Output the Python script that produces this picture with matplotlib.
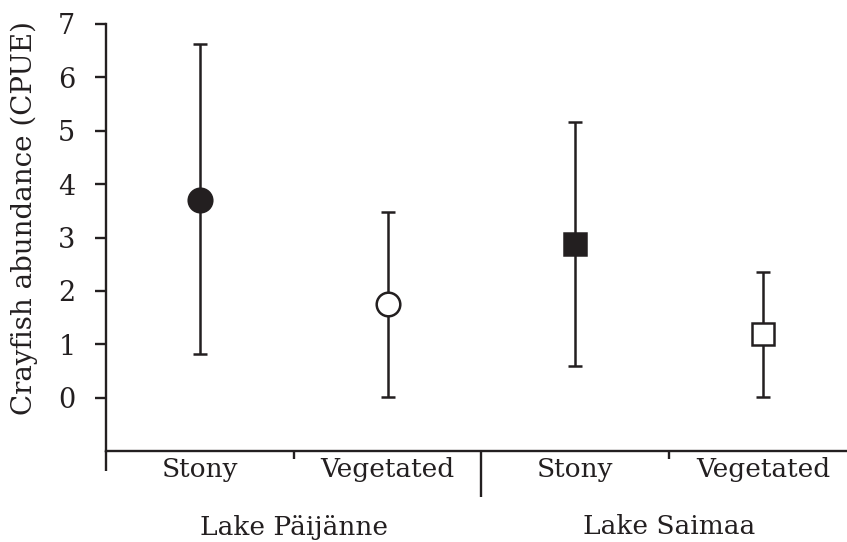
import matplotlib
matplotlib.use("Agg")
import matplotlib.pyplot as plt
import numpy as np

lakes = ["Lake Päijänne", "Lake Saimaa"]
habitats = ["Stony", "Vegetated", "Stony", "Vegetated"]
means = [3.71, 1.76, 2.88, 1.19]
upper = [6.63, 3.48, 5.17, 2.35]
lower = [0.81, 0.02, 0.60, 0.01]
markers = ["o", "o", "s", "s"]
fills = ["#231f20", "white", "#231f20", "white"]
yticks = [0, 1, 2, 3, 4, 5, 6, 7]

ink = "#231f20"
plt.rcParams["font.family"] = ["DejaVu Serif"]

fig = plt.figure(figsize=(8.47, 5.42), dpi=100)
ax = fig.add_axes([106/847, 1 - 451/542, 1 - 106/847, (451 - 24)/542])

xpos = np.arange(len(means)) + 0.5
for x, m, lo, hi, mk, fc in zip(xpos, means, lower, upper, markers, fills):
    ax.errorbar([x], [m], yerr=[[m - lo], [hi - m]], fmt="none",
                ecolor=ink, elinewidth=1.8, capsize=4.8, capthick=1.8, zorder=2)
    ms = 17 if mk == "o" else 15.5
    ax.plot([x], [m], marker=mk, markersize=ms, markerfacecolor=fc,
            markeredgecolor=ink, markeredgewidth=1.8, linestyle="none", zorder=3)

ax.set_xlim(0, (847 - 106) / 187.7)
ax.set_ylim(-1, 7)
ax.set_yticks(yticks)
ax.set_yticklabels([str(t) for t in yticks], fontsize=19.5, color=ink)
ax.tick_params(axis="y", direction="out", length=8, width=1.7, color=ink, pad=14)

ax.set_xticks([0, 2])
ax.set_xticks([1, 3], minor=True)
ax.set_xticklabels([])
ax.tick_params(axis="x", which="major", direction="out", length=14.5, width=1.7, color=ink)
ax.tick_params(axis="x", which="minor", direction="out", length=6, width=1.7, color=ink)
ax.xaxis.get_major_ticks()[1].tick1line.set_markersize(33)

for side in ["top", "right"]:
    ax.spines[side].set_visible(False)
for side in ["left", "bottom"]:
    ax.spines[side].set_linewidth(1.7)
    ax.spines[side].set_color(ink)

tr = ax.get_xaxis_transform()
for x, h in zip(xpos, habitats):
    ax.text(x, -19 / 427, h, transform=tr, ha="center", va="center",
            fontsize=19, color=ink)
for i, lk in enumerate(lakes):
    ax.text(2 * i + 1, -76 / 427, lk, transform=tr, ha="center", va="center",
            fontsize=19, color=ink)

ax.set_ylabel("Crayfish abundance (CPUE)", fontsize=20, color=ink)
ax.yaxis.set_label_coords(-68 / 741, (451 - 218) / 427)

fig.savefig("out.png", dpi=100)
